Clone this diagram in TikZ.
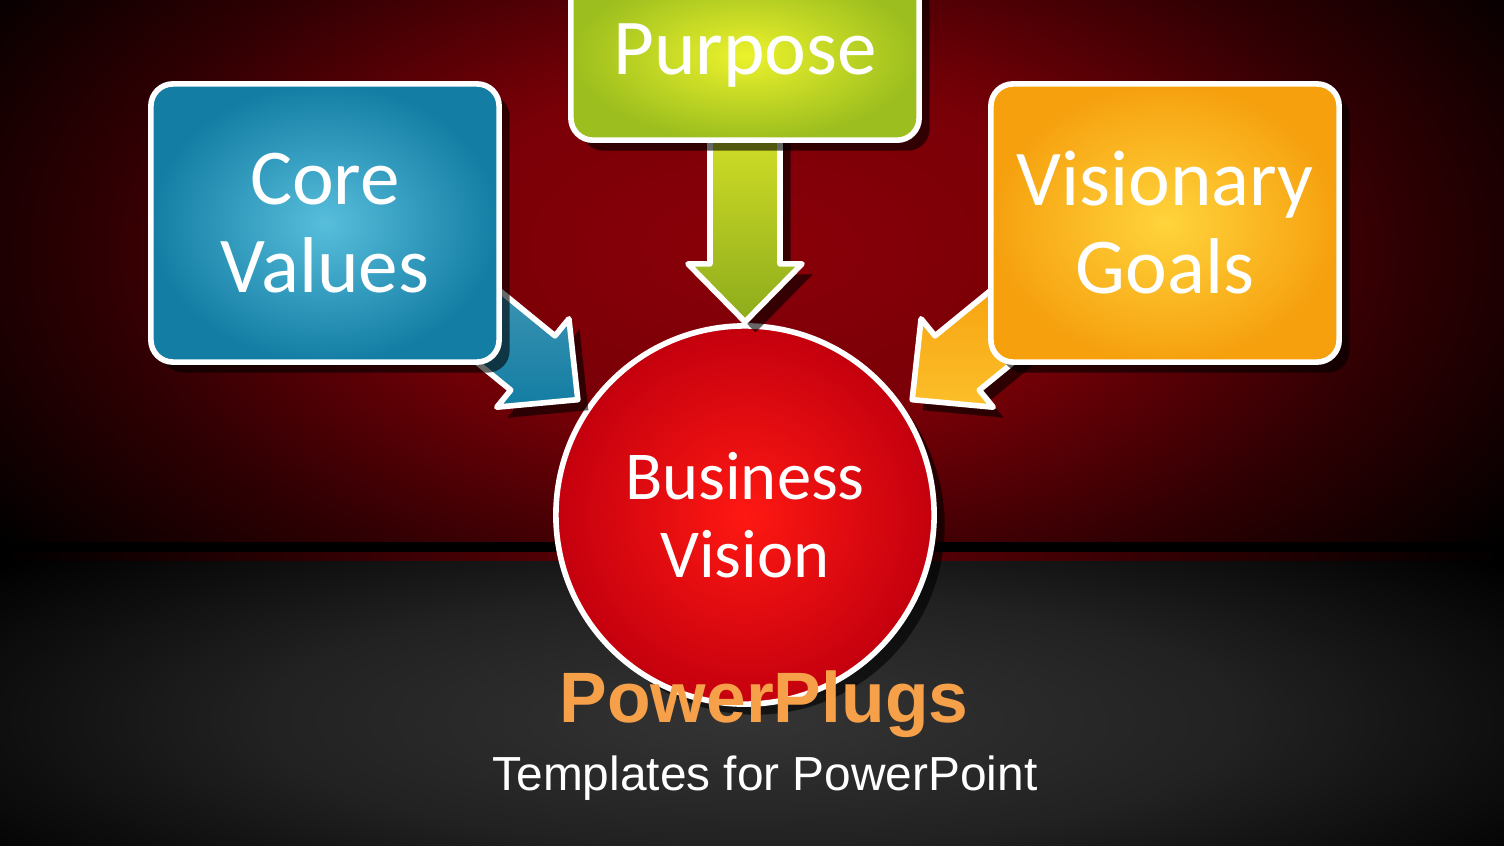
\documentclass[tikz,border=0pt]{standalone}
\usepackage{fontspec}
\setmainfont{Carlito}
\newfontfamily\brandfont{Liberation Sans}
\usetikzlibrary{calc,shadows}

\definecolor{bgred}{HTML}{8A0008}
\definecolor{floorgray}{HTML}{343434}
\definecolor{corein}{HTML}{58BEDC}
\definecolor{coreout}{HTML}{137DA3}
\definecolor{purposein}{HTML}{ECF22C}
\definecolor{purposeout}{HTML}{9CBE1E}
\definecolor{goalsin}{HTML}{FFD43C}
\definecolor{goalsout}{HTML}{F6A00E}
\definecolor{visionin}{HTML}{FF1812}
\definecolor{visionout}{HTML}{C4000E}
\definecolor{brandorange}{HTML}{F6A04A}

\pgfdeclareradialshading{redglow}{\pgfpoint{0bp}{0bp}}{color(0bp)=(bgred); color(8bp)=(bgred!88!black); color(16bp)=(bgred!35!black); color(23bp)=(black); color(50bp)=(black)}
\pgfdeclareradialshading{grayglow}{\pgfpoint{0bp}{0bp}}{color(0bp)=(floorgray); color(12bp)=(floorgray!65!black); color(24bp)=(black); color(50bp)=(black)}

\tikzset{
    softshadow/.style={drop shadow={fill=black, opacity=0.6, shadow xshift=3pt, shadow yshift=-3pt}},
    box/.style={draw=white, line width=1.6pt, rounded corners=0.22cm,
        minimum width=3.48cm, minimum height=2.78cm, text=white, align=center,
        font=\fontsize{22.5}{25}\selectfont, softshadow},
    arrowbody/.style={draw=white, line width=1.6pt, line join=round, softshadow}
}

% block arrow from #1 (hidden start) to #2 (tip)
\newcommand{\blockarrow}[3]{%
    \coordinate (#2-b) at ($(#2)!0.58cm!(#1)$);
    \path[arrowbody,#3] ($(#1)!0.35cm!90:(#2)$) -- ($(#2-b)!0.35cm!90:(#2)$)
        -- ($(#2-b)!0.57cm!90:(#2)$) -- (#2) -- ($(#2-b)!0.57cm!-90:(#2)$)
        -- ($(#2-b)!0.35cm!-90:(#2)$) -- ($(#1)!0.35cm!-90:(#2)$) -- cycle;
}

\begin{document}
\begin{tikzpicture}[x=0.01cm,y=-0.01cm]
    \useasboundingbox (0,0) rectangle (1504,846);
    \clip (0,0) rectangle (1504,846);

    % background
    \fill[black] (0,0) rectangle (1504,846);
    \begin{scope}
        \clip (0,0) rectangle (1504,541);
        \shade[shading=redglow] (-250,-300) rectangle (1754,800);
    \end{scope}
    \shade[left color=black, right color=black, middle color=bgred!80!black] (0,552) rectangle (1504,560);
    \begin{scope}
        \clip (0,561) rectangle (1504,846);
        \shade[shading=grayglow] (-250,460) rectangle (1754,980);
    \end{scope}

    \node[circle, draw=white, line width=1.6pt, minimum size=3.78cm,
        inner color=visionin, outer color=visionout, text=white, align=center,
        font=\fontsize{19.5}{22}\selectfont, softshadow]
        (vision) at (745,515) {Business\\Vision};

    \coordinate (cvtip) at ($(vision.center)+(145.4:2.03cm)$);
    \coordinate (pvtip) at ($(vision.center)+(90:1.93cm)$);
    \coordinate (gvtip) at ($(vision.center)+(34.6:2.03cm)$);
    \coordinate (cvstart) at (452,297);
    \coordinate (pvstart) at (745,60);
    \coordinate (gvstart) at (1038,297);

    \blockarrow{cvstart}{cvtip}{top color=coreout!80!white, bottom color=coreout}
    \blockarrow{pvstart}{pvtip}{top color=purposein, bottom color=purposeout!90!black}
    \blockarrow{gvstart}{gvtip}{top color=goalsout, bottom color=goalsin!60!goalsout}

    \node[box, inner color=corein, outer color=coreout] (core) at (325,223) {Core\\Values};
    \node[box, inner color=purposein, outer color=purposeout, minimum height=1.69cm, anchor=south]
        (purpose) at (745,143) {Purpose};
    \node[box, inner color=goalsin, outer color=goalsout] (goals) at (1165,223) {Visionary\\Goals};

    \node[anchor=base, text=brandorange, font=\brandfont\bfseries\fontsize{20.3}{24}\selectfont]
        (brand) at (764,722) {PowerPlugs};
    \node[anchor=base, text=white, font=\brandfont\fontsize{13.6}{16}\selectfont]
        (tagline) at (765,790) {Templates for PowerPoint};
\end{tikzpicture}
\end{document}
